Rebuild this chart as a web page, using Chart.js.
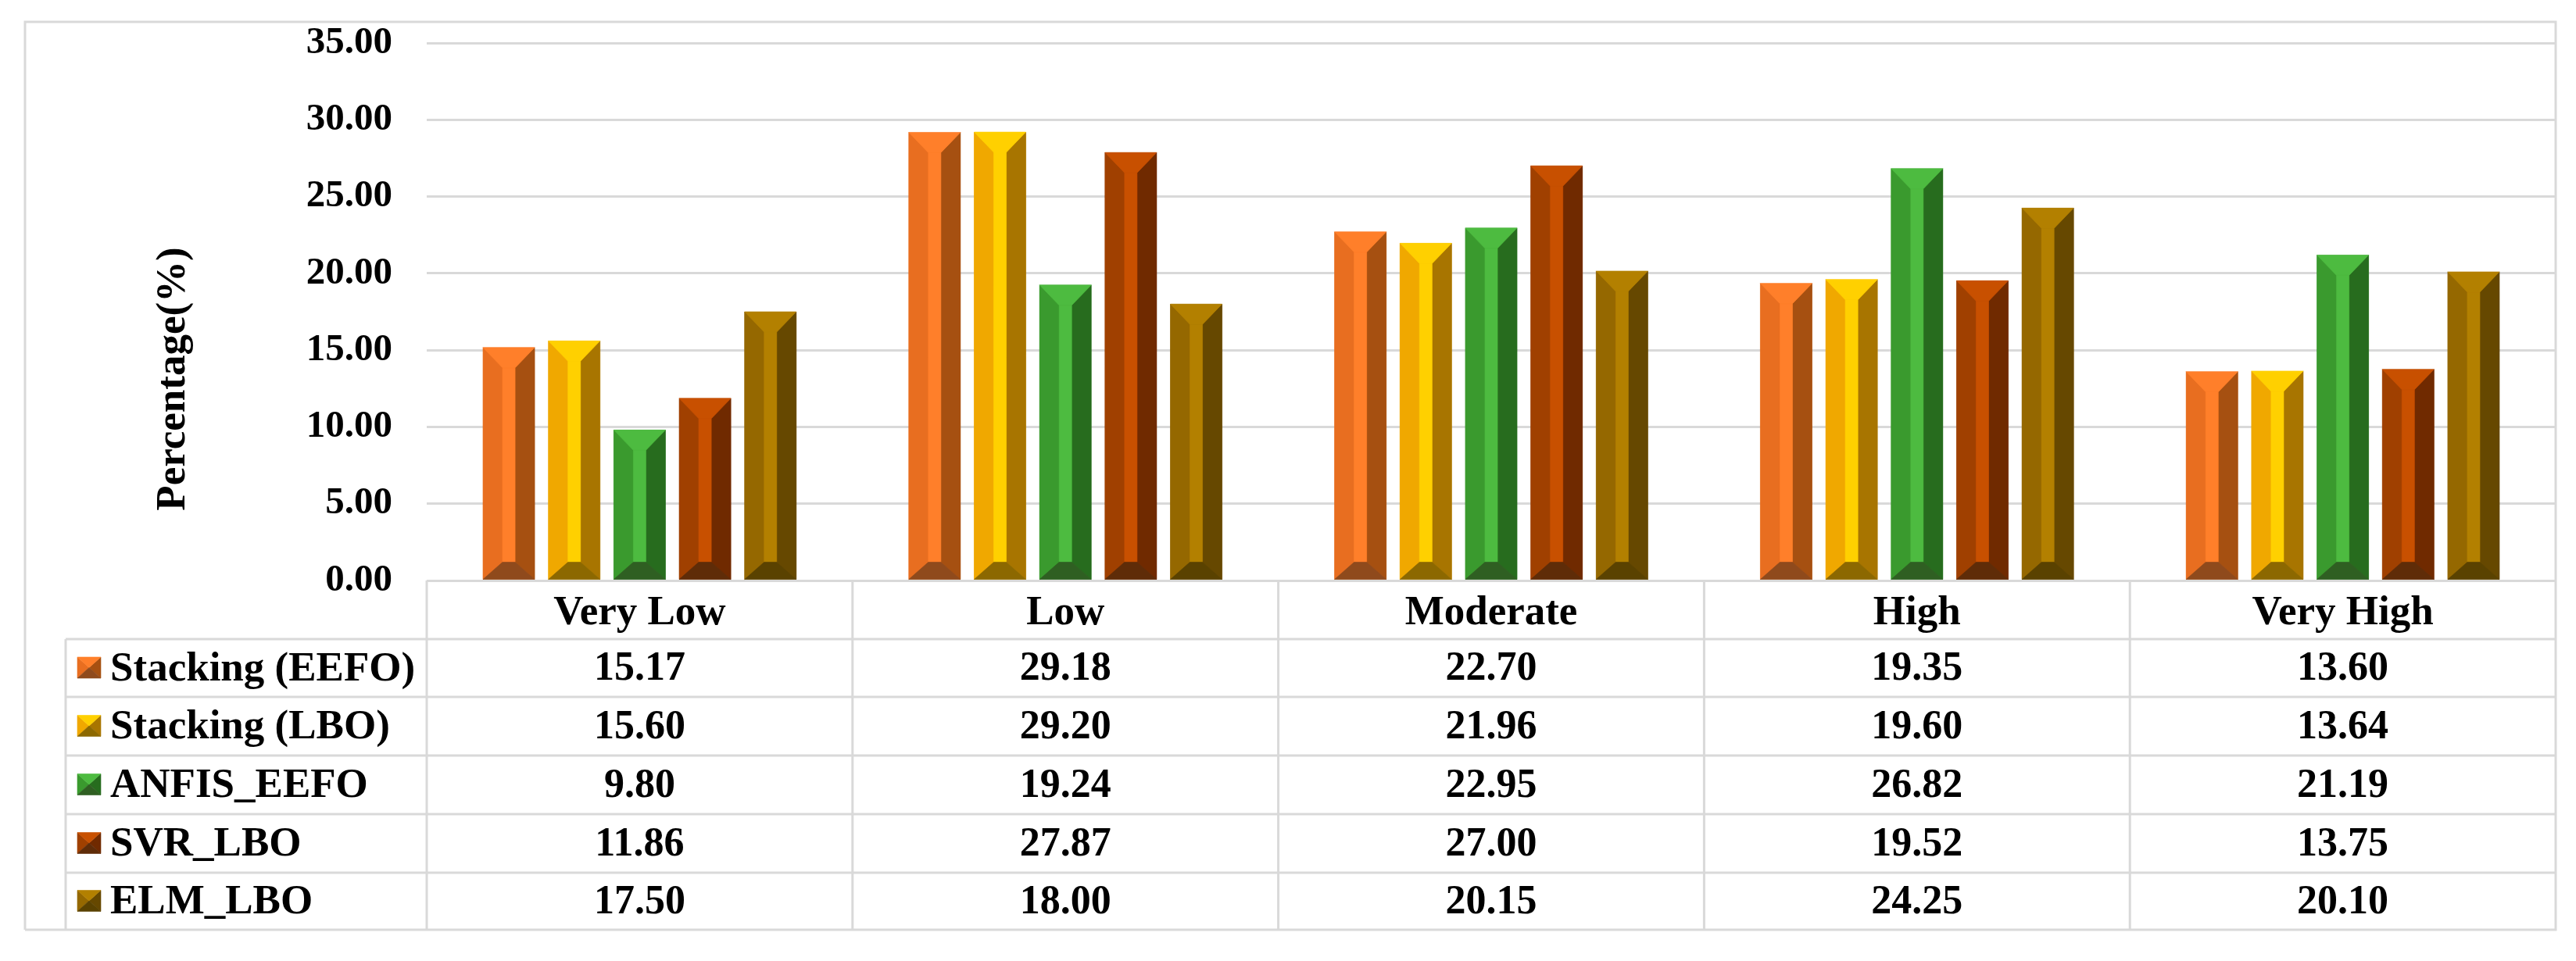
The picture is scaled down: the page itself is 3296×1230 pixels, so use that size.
<!DOCTYPE html>
<html>
<head>
<meta charset="utf-8">
<style>
html,body{margin:0;padding:0;background:#fff}
canvas{display:block}
</style>
<script src="https://cdn.jsdelivr.net/npm/chart.js@4/dist/chart.umd.min.js"></script>
</head>
<body>
<canvas id="c" width="3296" height="1230"></canvas>
<script>
const categories = ["Very Low", "Low", "Moderate", "High", "Very High"];
const seriesNames = ["Stacking (EEFO)", "Stacking (LBO)", "ANFIS_EEFO", "SVR_LBO", "ELM_LBO"];
const stackingEEFO = [15.17, 29.18, 22.70, 19.35, 13.60];
const stackingLBO = [15.60, 29.20, 21.96, 19.60, 13.64];
const anfisEEFO = [9.80, 19.24, 22.95, 26.82, 21.19];
const svrLBO = [11.86, 27.87, 27.00, 19.52, 13.75];
const elmLBO = [17.50, 18.00, 20.15, 24.25, 20.10];
const seriesValues = [stackingEEFO, stackingLBO, anfisEEFO, svrLBO, elmLBO];
const axisTitle = "Percentage(%)";

// face colours: [bright top and centre, left, right, bottom]
const faces = [
  ["#FF7F2A", "#E86E20", "#A65011", "#8F4A1C"],
  ["#FFD000", "#F0A800", "#A87500", "#8C6800"],
  ["#4DBB40", "#3A9A2E", "#276C1E", "#2F5F22"],
  ["#C85000", "#A04000", "#702A00", "#5F2C08"],
  ["#B38000", "#956800", "#664800", "#5A4200"]
];
const SERIF = '"Liberation Serif"';
const LINE = "#D9D9D9";
const rowLines = [818, 892, 967, 1042, 1117, 1190];

function poly(ctx, color, pts) {
  ctx.fillStyle = color;
  ctx.strokeStyle = color;
  ctx.lineWidth = 0.6;
  ctx.beginPath();
  pts.forEach((p, i) => i ? ctx.lineTo(p[0], p[1]) : ctx.moveTo(p[0], p[1]));
  ctx.closePath();
  ctx.fill();
  ctx.stroke();
}
function bevel(ctx, f, x0, x1, top, bottom, ix, ty, by) {
  const a = x0 + ix, b = x1 - ix, t = top + ty, u = bottom - by;
  poly(ctx, f[1], [[x0, top], [a, t], [a, u], [x0, bottom]]);
  poly(ctx, f[2], [[x1, top], [b, t], [b, u], [x1, bottom]]);
  poly(ctx, f[0], [[a, t], [b, t], [b, u], [a, u]]);
  poly(ctx, f[0], [[x0, top], [x1, top], [b, t], [a, t]]);
  poly(ctx, f[3], [[x0, bottom], [x1, bottom], [b, u], [a, u]]);
}

const bevelBars = {
  id: "bevelBars",
  afterDatasetsDraw(chart) {
    const ctx = chart.ctx;
    ctx.save();
    chart.data.datasets.forEach((d, i) => {
      chart.getDatasetMeta(i).data.forEach(el => {
        const p = el.getProps(["x", "y", "base", "width"], true);
        bevel(ctx, faces[i], p.x - p.width / 2, p.x + p.width / 2, p.y, p.base, 25, 26, 22);
      });
    });
    ctx.restore();
  }
};

const dataTable = {
  id: "dataTable",
  afterDraw(chart) {
    const ctx = chart.ctx, x = chart.scales.x, area = chart.chartArea;
    const tableLeft = 84, frameLeft = 32, frameTop = 28;
    const right = area.right, axisY = area.bottom, last = rowLines[rowLines.length - 1];
    const n = categories.length, step = (area.right - area.left) / n;
    ctx.save();
    ctx.strokeStyle = LINE;
    ctx.lineWidth = 3;
    ctx.beginPath();
    // outer frame
    ctx.moveTo(frameLeft, last); ctx.lineTo(frameLeft, frameTop); ctx.lineTo(right, frameTop); ctx.lineTo(right, last); ctx.lineTo(frameLeft, last);
    // table rows and columns
    rowLines.slice(0, -1).forEach(y => { ctx.moveTo(tableLeft, y); ctx.lineTo(right, y); });
    ctx.moveTo(tableLeft, rowLines[0]); ctx.lineTo(tableLeft, last);
    for (let i = 0; i < n; i++) {
      const vx = area.left + i * step;
      ctx.moveTo(vx, axisY); ctx.lineTo(vx, last);
    }
    ctx.stroke();

    ctx.textBaseline = "middle";
    seriesNames.forEach((name, r) => {
      const cy = (rowLines[r] + rowLines[r + 1]) / 2;
      bevel(ctx, faces[r], 99, 129, cy - 14, cy + 13, 15, 13.5, 13.5);
      ctx.fillStyle = "#000";
      ctx.font = "bold 53px " + SERIF;
      ctx.textAlign = "left";
      ctx.fillText(name, 141, cy + 2);
      ctx.font = "bold 52px " + SERIF;
      ctx.textAlign = "center";
      seriesValues[r].forEach((v, c) => {
        ctx.fillText(v.toFixed(2), x.getPixelForValue(c), cy + 2);
      });
    });

    // axis title
    ctx.translate(222, 485);
    ctx.rotate(-Math.PI / 2);
    ctx.font = "bold 53px " + SERIF;
    ctx.textAlign = "center";
    ctx.fillText(axisTitle, 0, 0);
    ctx.restore();
  }
};

new Chart(document.getElementById("c"), {
  type: "bar",
  data: {
    labels: categories,
    datasets: seriesNames.map((name, i) => ({
      label: name,
      data: seriesValues[i],
      backgroundColor: faces[i][1],
      borderWidth: 0,
      categoryPercentage: 0.768,
      barPercentage: 0.79
    }))
  },
  options: {
    responsive: false,
    animation: false,
    layout: { padding: { top: 55, right: 26, bottom: 0, left: 0 } },
    plugins: { legend: { display: false }, tooltip: { enabled: false }, title: { display: false } },
    scales: {
      x: {
        grid: { display: false },
        border: { display: false },
        ticks: { color: "#000", font: { family: SERIF, size: 53, weight: "bold" }, padding: 3, maxRotation: 0 },
        afterFit(s) { s.height = 487; s.paddingLeft = 0; s.paddingRight = 0; }
      },
      y: {
        min: 0,
        max: 35,
        grid: { color: LINE, lineWidth: 3, drawTicks: false },
        border: { display: false },
        ticks: {
          stepSize: 5,
          color: "#000",
          padding: 44,
          font: { family: SERIF, size: 49, weight: "bold" },
          callback: v => Number(v).toFixed(2)
        },
        afterFit(s) { s.width = 546; s.paddingTop = 0; s.paddingBottom = 0; }
      }
    }
  },
  plugins: [bevelBars, dataTable]
});
</script>
</body>
</html>
